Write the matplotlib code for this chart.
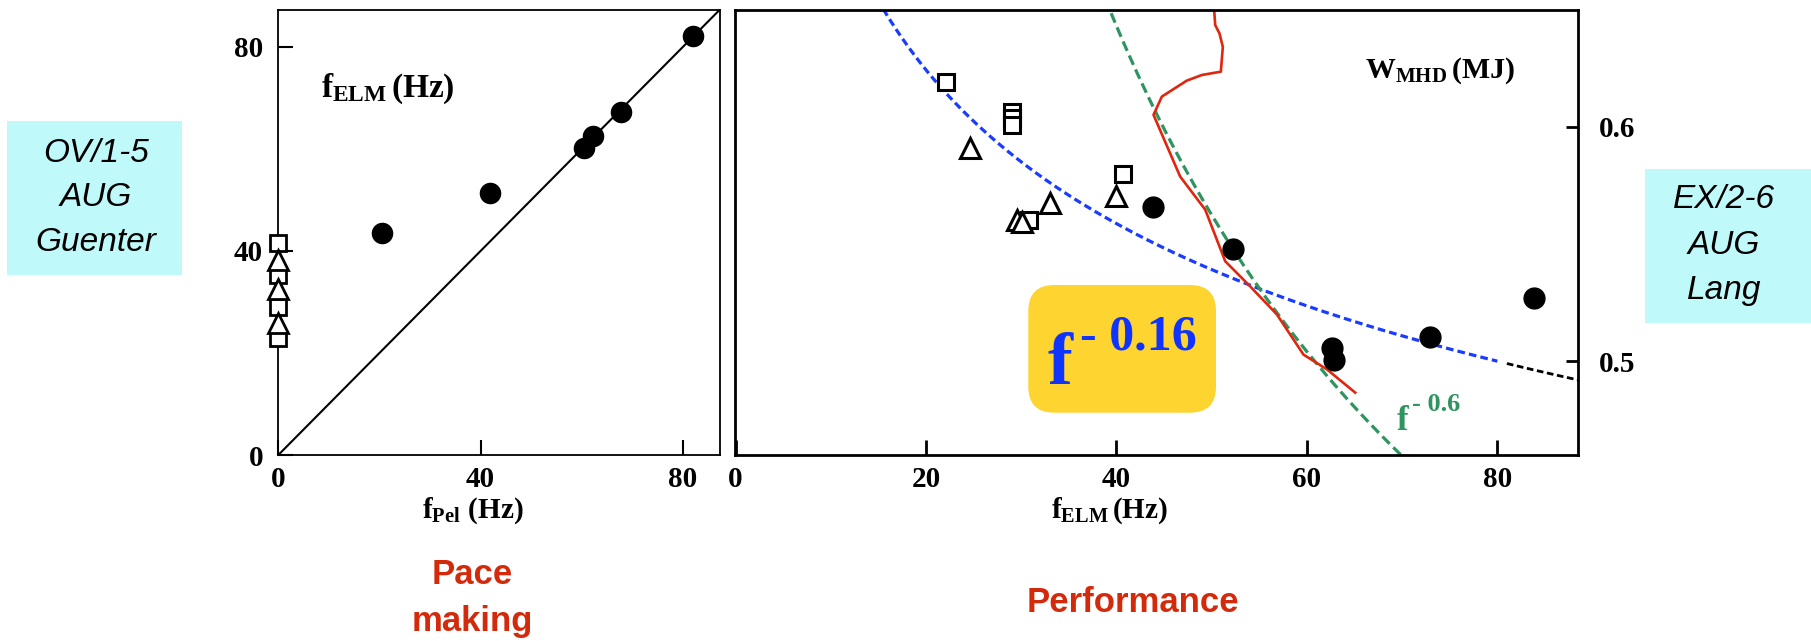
import numpy as np
import matplotlib
matplotlib.use("Agg")
import matplotlib.pyplot as plt
from matplotlib import font_manager
from matplotlib.patches import FancyBboxPatch, Rectangle

# ---------------- data ----------------
# Pace making: ELM frequency vs pellet frequency
pel_freq = [20.5, 41.8, 60.4, 62.2, 67.7, 81.9]
elm_freq_pel = [43.5, 51.3, 60.1, 62.5, 67.3, 82.2]
ref_sq_elm = [41.5, 35.3, 29.0, 22.9]      # no pellets, squares
ref_tri_elm = [38.2, 32.5, 25.8]           # no pellets, triangles

# Performance: stored energy vs ELM frequency
sq_f = [22.1, 29.0, 29.0, 29.0, 40.7, 30.8]
sq_w = [0.619, 0.6064, 0.6036, 0.6007, 0.580, 0.560]
tri_f = [24.6, 33.0, 40.0, 29.6, 30.1]
tri_w = [0.591, 0.5674, 0.5702, 0.5603, 0.5595]
pel_f = [43.8, 52.2, 62.6, 62.8, 72.95, 83.8]
pel_w = [0.5657, 0.5478, 0.5057, 0.5007, 0.5104, 0.527]

trace_f = [50.26, 50.37, 50.82, 51.17, 50.96, 48.97, 47.39, 44.77, 43.89,
           46.69, 49.32, 51.42, 54.04, 56.85, 59.64, 62.1, 65.07]
trace_w = [0.6497, 0.6433, 0.6397, 0.634, 0.6234, 0.622, 0.6196, 0.6128, 0.605,
           0.5787, 0.5646, 0.5426, 0.5319, 0.5199, 0.5028, 0.4965, 0.4866]

fit_weak_exp, fit_weak_coef = -0.16, 1.008
fit_strong_exp, fit_strong_coef = -0.6, 5.88

left_ticks = [0, 40, 80]
right_xticks = [0, 20, 40, 60, 80]
right_yticks = [0.5, 0.6]

# ---------------- style ----------------
avail = {f.name for f in font_manager.fontManager.ttflist}
narrow = "Liberation Sans Narrow" if "Liberation Sans Narrow" in avail else "Liberation Sans"
serif = "Liberation Serif"
plt.rcParams["font.family"] = [serif, "DejaVu Serif"]
plt.rcParams["mathtext.fontset"] = "custom"
plt.rcParams["mathtext.rm"] = "Liberation Serif:bold"
plt.rcParams["mathtext.bf"] = "Liberation Serif:bold"
plt.rcParams["mathtext.it"] = "Liberation Serif:bold"

W, H = 1811, 641
fig = plt.figure(figsize=(W / 100, H / 100), dpi=100)


def fx(px):
    return px / W


def fy(py):
    return 1 - py / H


tick_font = dict(family=serif, weight="bold", size=21)

# ---------------- left panel ----------------
axL = fig.add_axes([fx(278.3), fy(455), fx(720 - 278.3), (455 - 10) / H])
axL.set_xlim(0, 87.3)
axL.set_ylim(0, 87.2)
axL.plot([0, 100], [0, 100], color="black", lw=1.5, zorder=1)
axL.plot(pel_freq, elm_freq_pel, "o", color="black", ms=14.5, zorder=3)
axL.plot([0] * len(ref_sq_elm), ref_sq_elm, "s", mfc="white", mec="black",
         ms=11, mew=2, zorder=3, clip_on=False)
axL.plot([0] * len(ref_tri_elm), ref_tri_elm, "^", mfc="white", mec="black",
         ms=15, mew=2, zorder=4, clip_on=False)
axL.set_xticks(left_ticks)
axL.set_yticks(left_ticks)
axL.tick_params(direction="in", length=11, width=1.5, pad=11)
axL.tick_params(axis="x", pad=8)
for lab in axL.get_xticklabels() + axL.get_yticklabels():
    lab.set_fontproperties(font_manager.FontProperties(**tick_font))
for s in axL.spines.values():
    s.set_linewidth(1.3)

# ---------------- right panel ----------------
axR = fig.add_axes([fx(734.6), fy(455), fx(1578.3 - 734.6), (455 - 10) / H])
axR.set_xlim(-0.1, 88.5)
axR.set_ylim(0.46, 0.6497)

f_weak = np.linspace(12, 80, 200)
axR.plot(f_weak, fit_weak_coef * f_weak ** fit_weak_exp, color="#1a3cff",
         lw=2.3, dashes=(2.4, 1.3), zorder=2)
f_ext = np.linspace(81, 89, 40)
axR.plot(f_ext, fit_weak_coef * f_ext ** fit_weak_exp, color="black",
         lw=2.0, dashes=(2.4, 1.3), zorder=2)
f_strong = np.linspace(36, 73, 200)
axR.plot(f_strong, fit_strong_coef * f_strong ** fit_strong_exp, color="#2f9460",
         lw=2.3, dashes=(3.2, 1.6), zorder=2)
axR.plot(trace_f, trace_w, color="#e0260e", lw=1.9, zorder=2)

axR.plot(sq_f, sq_w, "s", mfc="white", mec="black", ms=11.5, mew=2.2, zorder=3)
axR.plot(tri_f, tri_w, "^", mfc="white", mec="black", ms=15, mew=2.2, zorder=3)
axR.plot(pel_f, pel_w, "o", color="black", ms=15, zorder=4)

axR.set_xticks(right_xticks)
axR.set_yticks(right_yticks)
axR.yaxis.tick_right()
axR.tick_params(axis="x", direction="in", length=11, width=2, pad=8)
axR.tick_params(axis="y", direction="in", length=9, width=2, pad=15)
axR.set_yticklabels(["0.5", "0.6"])
for lab in axR.get_xticklabels() + axR.get_yticklabels():
    lab.set_fontproperties(font_manager.FontProperties(**tick_font))
for s in axR.spines.values():
    s.set_linewidth(2.0)

# ---------------- axis labels ----------------
fig.text(fx(321), fy(97), r"$\mathrm{f}_{\mathrm{ELM}}\,\mathrm{(Hz)}$",
         ha="left", va="baseline", fontsize=24)
fig.text(fx(1365), fy(78), r"$\mathrm{W}_{\mathrm{MHD}}\,\mathrm{(MJ)}$",
         ha="left", va="baseline", fontsize=21.5)
fig.text(fx(473), fy(518), r"$\mathrm{f}_{\mathrm{Pel}}\ \mathrm{(Hz)}$",
         ha="center", va="baseline", fontsize=21)
fig.text(fx(1109), fy(518), r"$\mathrm{f}_{\mathrm{ELM}}\,\mathrm{(Hz)}$",
         ha="center", va="baseline", fontsize=21)

# ---------------- fit annotations ----------------
box = FancyBboxPatch((1028.3 / 100, (H - 412.7) / 100), (1216 - 1028.3) / 100,
                     (412.7 - 285) / 100, boxstyle="round,pad=0,rounding_size=0.26",
                     transform=fig.dpi_scale_trans, facecolor="#fed431",
                     edgecolor="none", zorder=5)
fig.add_artist(box)
fig.text(fx(1047), fy(384), "f", fontsize=54, fontweight="bold", color="#1034ff",
         ha="left", va="baseline", zorder=6)
fig.text(fx(1080), fy(350), "- 0.16", fontsize=36, fontweight="bold", color="#1034ff",
         ha="left", va="baseline", zorder=6)

fig.text(fx(1397), fy(430), "f", fontsize=25, fontweight="bold", color="#2f9460",
         ha="left", va="baseline")
fig.text(fx(1412), fy(411), "- 0.6", fontsize=19, fontweight="bold", color="#2f9460",
         ha="left", va="baseline")

# ---------------- side boxes ----------------
cyan = "#c0f9f9"
fig.add_artist(Rectangle((fx(7.3), fy(275)), fx(181.7 - 7.3), (275 - 121) / H,
                         transform=fig.transFigure, facecolor=cyan, edgecolor="none"))
for txt, y in [("OV/1-5", 153), ("AUG", 198), ("Guenter", 242)]:
    fig.text(fx(96), fy(y), txt, family="Liberation Sans", style="italic",
             fontsize=24, ha="center", va="center")

fig.add_artist(Rectangle((fx(1645), fy(322.7)), fx(1811 - 1645), (322.7 - 169.3) / H,
                         transform=fig.transFigure, facecolor=cyan, edgecolor="none"))
for txt, y in [("EX/2-6", 200), ("AUG", 246), ("Lang", 291)]:
    fig.text(fx(1724), fy(y), txt, family="Liberation Sans", style="italic",
             fontsize=24, ha="center", va="center")

# ---------------- panel captions ----------------
red = "#d42a0c"
for txt, x, y in [("Pace", 472, 574), ("making", 472, 622), ("Performance", 1133, 603)]:
    fig.text(fx(x), fy(y), txt, family=narrow, fontweight="bold", fontsize=25,
             color=red, ha="center", va="center")

fig.savefig("out.png", dpi=100)
